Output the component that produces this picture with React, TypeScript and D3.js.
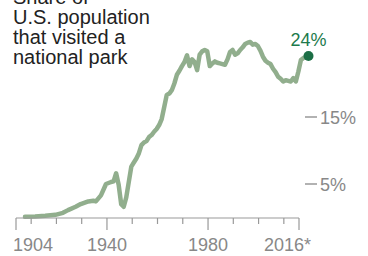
import React from "react";
import * as d3 from "d3";

const titleLines = ["Share of", "U.S. population", "that visited a", "national park"];

const years = [
  1904, 1908, 1912, 1916, 1919, 1921, 1924, 1926, 1929, 1931, 1932, 1934, 1936, 1938, 1939,
  1940, 1941, 1942, 1943, 1944, 1945, 1946, 1947, 1948, 1949, 1950, 1951, 1952, 1953, 1954,
  1955, 1956, 1957, 1958, 1959, 1960, 1961, 1962, 1963, 1964, 1965, 1966, 1967, 1968, 1969,
  1970, 1971, 1972, 1973, 1974, 1975, 1976, 1977, 1978, 1979, 1980, 1981, 1982, 1983, 1984,
  1985, 1986, 1987, 1988, 1989, 1990, 1991, 1992, 1993, 1994, 1995, 1996, 1997, 1998, 1999,
  2000, 2001, 2002, 2003, 2004, 2005, 2006, 2007, 2008, 2009, 2010, 2011, 2012, 2013, 2014,
  2015, 2016,
];

const share = [
  0.1, 0.15, 0.25, 0.4, 0.7, 1.1, 1.6, 2.0, 2.4, 2.5, 2.4, 3.3, 5.0, 5.3, 5.4,
  6.6, 4.9, 2.0, 1.6, 3.0, 5.3, 7.6, 8.2, 8.8, 9.6, 10.8, 11.2, 11.4, 12.0, 12.3,
  12.8, 13.2, 13.8, 14.7, 16.5, 18.3, 18.5, 19.0, 20.0, 21.3, 21.9, 22.6, 23.2, 24.2, 22.6,
  23.6, 23.2, 22.0, 24.3, 24.8, 25.0, 24.8, 22.6, 23.0, 23.3, 23.1, 23.0, 22.9, 22.8, 23.6,
  24.7, 25.0, 24.3, 24.5, 25.0, 25.4, 25.9, 26.1, 26.2, 25.8, 25.9, 25.6, 24.9, 24.0, 23.4,
  23.1, 22.9, 22.2, 21.7, 21.0, 20.7, 20.3, 20.5, 20.4, 20.3, 20.8, 20.3, 21.8, 23.5, 23.8,
  24.0, 24.1,
];

const majorTicks = [1904, 1940, 1980, 2016];
const majorLabels = ["1904", "1940", "1980", "2016*"];
const minorTicks = [1910, 1920, 1930, 1950, 1960, 1970, 1990, 2000, 2010];
const yTicks = [5, 15];
const lastLabel = "24%";

export default function App() {
  const W = 368;
  const H = 256;
  const font = "'Liberation Sans', Arial, Helvetica, sans-serif";

  const xAxis = d3.scaleLinear().domain([1904, 2016]).range([16, 299]);
  const xLine = d3.scaleLinear().domain([1904, 2016]).range([25, 308.5]);
  const y = d3.scaleLinear().domain([0, 25]).range([217.5, 50]);

  const data = years.map((yr, i) => ({ yr, v: share[i] }));
  const line = d3
    .line<{ yr: number; v: number }>()
    .x((d) => xLine(d.yr))
    .y((d) => y(d.v))
    .curve(d3.curveLinear);

  const last = data[data.length - 1];
  const axisY = 218;

  return (
    <svg
      width={W}
      height={H}
      style={{ position: "absolute", left: 0, top: 0, background: "#fff" }}
      fontFamily={font}
    >
      {titleLines.map((t, i) => (
        <text key={t} x={13} y={4 + i * 20} fontSize={20} fill="#222">
          {t}
        </text>
      ))}

      <path
        d={line(data) || ""}
        fill="none"
        stroke="#91ae8d"
        strokeWidth={4.5}
        strokeLinejoin="round"
        strokeLinecap="round"
      />

      <line x1={xAxis(1904)} x2={xAxis(2016)} y1={axisY} y2={axisY} stroke="#999" strokeWidth={1.2} />
      {majorTicks.map((t) => (
        <line key={t} x1={xAxis(t)} x2={xAxis(t)} y1={axisY} y2={axisY + 12} stroke="#999" strokeWidth={1.2} />
      ))}
      {minorTicks.map((t) => (
        <line key={t} x1={xAxis(t)} x2={xAxis(t)} y1={axisY} y2={axisY + 6} stroke="#999" strokeWidth={1.2} />
      ))}
      {majorTicks.map((t, i) => (
        <text
          key={t}
          x={i === 0 ? xAxis(t) - 3 : i === majorTicks.length - 1 ? xAxis(t) + 12 : xAxis(t)}
          y={251}
          fontSize={18}
          fill="#888"
          textAnchor={i === 0 ? "start" : i === majorTicks.length - 1 ? "end" : "middle"}
        >
          {majorLabels[i]}
        </text>
      ))}

      {yTicks.map((t) => (
        <g key={t}>
          <line x1={305} x2={317} y1={y(t)} y2={y(t)} stroke="#999" strokeWidth={1.5} />
          <text x={320} y={y(t) + 7} fontSize={18} fill="#888">
            {t}%
          </text>
        </g>
      ))}

      <circle cx={xLine(last.yr)} cy={y(last.v)} r={5} fill="#1b6e45" />
      <text x={xLine(last.yr)} y={46} fontSize={18} fill="#1d7a4c" textAnchor="middle">
        {lastLabel}
      </text>
    </svg>
  );
}
